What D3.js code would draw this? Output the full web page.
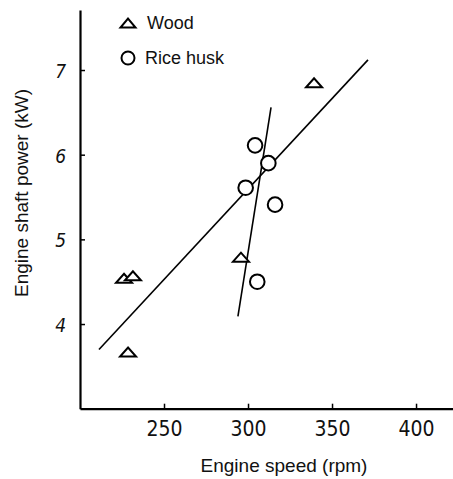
<html>
<head>
<meta charset="utf8">
<title>engine shaft power</title>
<style>
body { margin:0; background:white; }
svg { display:block; }
</style>
<script src="https://cdn.jsdelivr.net/npm/d3@7"></script>
</head>
<body>
<div id="chart"></div>
<script>
// data
var woodSpeed = [226.2, 231.5, 228.6, 295.8, 339.3];
var woodPower = [4.54, 4.57, 3.67, 4.79, 6.85];
var huskSpeed = [304.2, 312.1, 298.6, 316.1, 305.5];
var huskPower = [6.11, 5.90, 5.61, 5.41, 4.50];
// fitted lines, end points
var woodLineSpeed = [211.3, 371.4];
var woodLinePower = [3.70, 7.12];
var huskLineSpeed = [294.0, 313.7];
var huskLinePower = [4.09, 6.56];
var xTicks = [250, 300, 350, 400];
var yTicks = [4, 5, 6, 7];
var legendLabels = ["Wood", "Rice husk"];

var width = 453, height = 479;
var x = d3.scaleLinear().domain([200, 422]).range([80, 453]);
var y = d3.scaleLinear().domain([3, 7.71]).range([408.7, 9.9]);

var svg = d3.select("#chart").append("svg")
  .attr("width", width).attr("height", height);

// triangle symbol: flat, open
function tri(cx, cy, w, h) {
  return "M" + (cx - w/2) + "," + (cy + h/2) + "L" + (cx + w/2) + "," + (cy + h/2) +
         "L" + cx + "," + (cy - h/2) + "Z";
}

// axes
var xAxis = d3.axisBottom(x).tickValues(xTicks).tickSize(-5).tickSizeOuter(0);
var gx = svg.append("g").attr("transform", "translate(0," + y(3) + ")").call(xAxis);
gx.select(".domain").attr("stroke-width", 2.2);
gx.selectAll(".tick line").attr("stroke-width", 1.5);
gx.selectAll(".tick text")
  .attr("y", 27).attr("dy", 0)
  .attr("font-family", "DejaVu Sans Condensed")
  .attr("font-size", 21)
  .attr("fill", "#111");

var yAxis = d3.axisLeft(y).tickValues(yTicks).tickFormat(d3.format("d"))
  .tickSize(-5).tickSizeOuter(0).tickPadding(14);
var gy = svg.append("g").attr("transform", "translate(" + x(200) + ",0)").call(yAxis);
gy.select(".domain").attr("stroke-width", 2.2);
gy.selectAll(".tick line").attr("stroke-width", 1.5);
gy.selectAll(".tick text")
  .attr("dy", "0.4em")
  .attr("font-family", "DejaVu Sans Condensed")
  .attr("font-size", 19)
  .attr("font-style", "italic")
  .attr("fill", "#111");

// axis titles
svg.append("text")
  .attr("x", 284).attr("y", 472)
  .attr("text-anchor", "middle")
  .attr("font-family", "Liberation Sans")
  .attr("font-size", 19)
  .attr("fill", "#111")
  .text("Engine speed (rpm)");

svg.append("text")
  .attr("transform", "translate(28,193) rotate(-90)")
  .attr("text-anchor", "middle")
  .attr("font-family", "Liberation Sans")
  .attr("font-size", 19)
  .attr("fill", "#111")
  .text("Engine shaft power (kW)");

// regression lines
svg.append("line")
  .attr("x1", x(woodLineSpeed[0])).attr("y1", y(woodLinePower[0]))
  .attr("x2", x(woodLineSpeed[1])).attr("y2", y(woodLinePower[1]))
  .attr("stroke", "black").attr("stroke-width", 1.6);
svg.append("line")
  .attr("x1", x(huskLineSpeed[0])).attr("y1", y(huskLinePower[0]))
  .attr("x2", x(huskLineSpeed[1])).attr("y2", y(huskLinePower[1]))
  .attr("stroke", "black").attr("stroke-width", 1.6);

// points
svg.selectAll(".wood").data(d3.range(woodSpeed.length)).enter()
  .append("path")
  .attr("class", "wood")
  .attr("d", function(i) { return tri(x(woodSpeed[i]), y(woodPower[i]), 16, 9); })
  .attr("fill", "white").attr("stroke", "black").attr("stroke-width", 2);

svg.selectAll(".husk").data(d3.range(huskSpeed.length)).enter()
  .append("circle")
  .attr("class", "husk")
  .attr("cx", function(i) { return x(huskSpeed[i]); })
  .attr("cy", function(i) { return y(huskPower[i]); })
  .attr("r", 7.3)
  .attr("fill", "white").attr("stroke", "black").attr("stroke-width", 2);

// legend
svg.append("path").attr("d", tri(128, 23, 15, 9))
  .attr("fill", "white").attr("stroke", "black").attr("stroke-width", 2);
svg.append("circle").attr("cx", 128).attr("cy", 58).attr("r", 6.5)
  .attr("fill", "white").attr("stroke", "black").attr("stroke-width", 2);
svg.selectAll(".leg").data(legendLabels).enter()
  .append("text")
  .attr("x", function(d, i) { return i == 0 ? 147 : 145; })
  .attr("y", function(d, i) { return i == 0 ? 29 : 64; })
  .attr("font-family", "Liberation Sans")
  .attr("font-size", 18)
  .attr("fill", "#111")
  .text(function(d) { return d; });
</script>
</body>
</html>
